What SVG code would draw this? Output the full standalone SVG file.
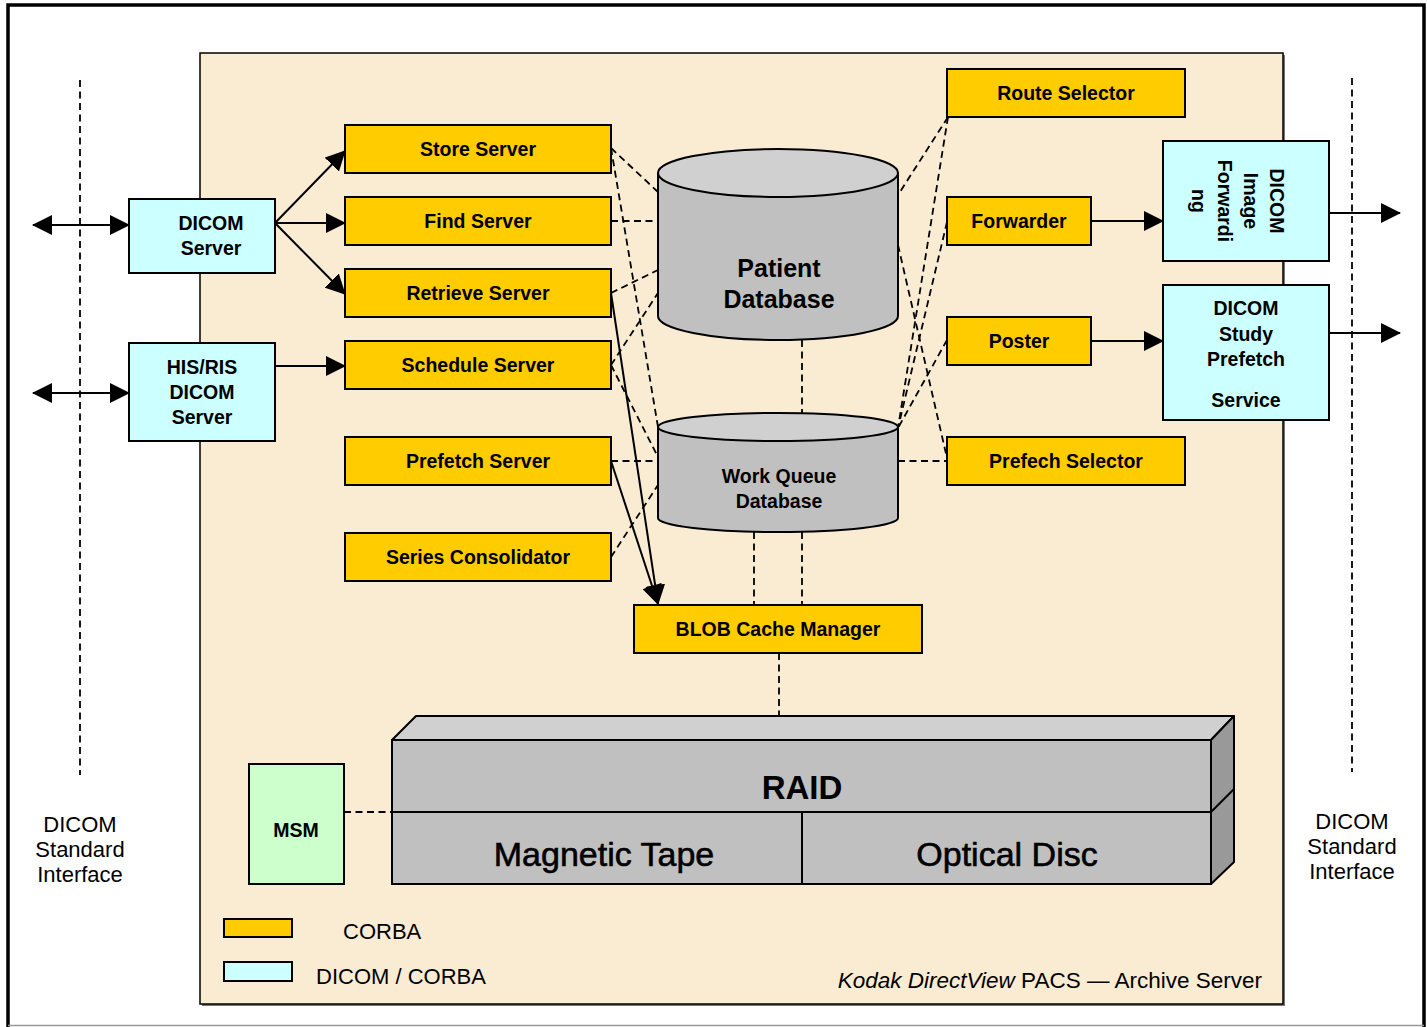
<svg xmlns="http://www.w3.org/2000/svg" width="1427" height="1027" viewBox="0 0 1427 1027">
<style>
text{font-family:"Liberation Sans",Arial,sans-serif;fill:#000}
.lbl{font-size:19.5px;font-weight:bold;text-anchor:middle}
.reg{font-size:22px;text-anchor:middle}
.box{stroke:#000;stroke-width:2}
.y{fill:#FFCC00}
.b{fill:#CCFFFF}
.dash{stroke:#000;stroke-width:1.8;stroke-dasharray:7 4.5;fill:none}
.sol{stroke:#000;stroke-width:2;fill:none}
.arr{marker-end:url(#ah)}
.arr2{marker-start:url(#ah);marker-end:url(#ah)}
.big{font-size:34px;text-anchor:middle;stroke:#000;stroke-width:0.6}
</style>
<defs>
<marker id="ah" markerUnits="userSpaceOnUse" markerWidth="20" markerHeight="20" viewBox="0 0 20 20" refX="19" refY="10" orient="auto-start-reverse">
<path d="M0,0 L20,10 L0,20 z" fill="#000"/>
</marker>
</defs>
<rect x="0" y="0" width="1427" height="1027" fill="#fff"/>
<path d="M8,1027 V5 H1424 V1027" fill="none" stroke="#000" stroke-width="3.5"/>
<line x1="8" y1="1025.5" x2="1424" y2="1025.5" stroke="#999" stroke-width="1.5"/>

<g id="panel">
<rect x="202" y="55" width="1083" height="951" fill="#777"/>
<rect x="200" y="53" width="1083" height="951" fill="#FAEBD3" stroke="#000" stroke-width="1.5"/>
</g>

<g id="interfaces">
<line x1="80" y1="80" x2="80" y2="775" class="dash"/>
<line x1="1352" y1="78" x2="1352" y2="772" class="dash"/>
<text class="reg" x="80" y="832">DICOM</text>
<text class="reg" x="80" y="857">Standard</text>
<text class="reg" x="80" y="882">Interface</text>
<text class="reg" x="1352" y="829">DICOM</text>
<text class="reg" x="1352" y="854">Standard</text>
<text class="reg" x="1352" y="879">Interface</text>
</g>

<g id="connectors">
<line class="dash" x1="611" y1="148" x2="658" y2="192"/>
<line class="dash" x1="611" y1="148" x2="658" y2="427"/>
<line class="dash" x1="611" y1="221" x2="658" y2="221"/>
<line class="dash" x1="611" y1="293" x2="658" y2="270"/>
<line class="dash" x1="611" y1="365" x2="658" y2="293"/>
<line class="dash" x1="611" y1="365" x2="658" y2="457"/>
<line class="dash" x1="611" y1="461" x2="658" y2="461"/>
<line class="dash" x1="611" y1="557" x2="658" y2="485"/>
<line class="dash" x1="802" y1="340" x2="802" y2="413"/>
<line class="dash" x1="754" y1="532" x2="754" y2="605"/>
<line class="dash" x1="802" y1="532" x2="802" y2="605"/>
<line class="dash" x1="779" y1="653" x2="779" y2="716"/>
<line class="dash" x1="344" y1="812" x2="392" y2="812"/>
<line class="dash" x1="948" y1="117" x2="898" y2="195"/>
<line class="dash" x1="948" y1="117" x2="898" y2="428"/>
<line class="dash" x1="947" y1="222" x2="898" y2="428"/>
<line class="dash" x1="947" y1="340" x2="898" y2="428"/>
<line class="dash" x1="898" y1="245" x2="947" y2="458"/>
<line class="dash" x1="898" y1="461" x2="947" y2="461"/>

<line class="sol arr2" x1="33" y1="225" x2="129" y2="225"/>
<line class="sol arr2" x1="33" y1="393" x2="129" y2="393"/>
<line class="sol arr" x1="275" y1="223" x2="345" y2="151"/>
<line class="sol arr" x1="275" y1="223" x2="345" y2="223"/>
<line class="sol arr" x1="275" y1="223" x2="345" y2="294"/>
<line class="sol arr" x1="275" y1="366" x2="345" y2="366"/>
<line class="sol arr" x1="611" y1="293" x2="658" y2="604"/>
<line class="sol arr" x1="611" y1="461" x2="658" y2="604"/>
<line class="sol arr" x1="1091" y1="221" x2="1163" y2="221"/>
<line class="sol arr" x1="1091" y1="341" x2="1163" y2="341"/>
<line class="sol arr" x1="1329" y1="213" x2="1400" y2="213"/>
<line class="sol arr" x1="1329" y1="333" x2="1400" y2="333"/>
</g>

<g id="dicom-server">
<rect class="box b" x="129" y="199" width="146" height="74"/>
<text class="lbl" x="211" y="230">DICOM</text>
<text class="lbl" x="211" y="255">Server</text>
</g>
<g id="his-ris-dicom-server">
<rect class="box b" x="129" y="343" width="146" height="98"/>
<text class="lbl" x="202" y="374">HIS/RIS</text>
<text class="lbl" x="202" y="399">DICOM</text>
<text class="lbl" x="202" y="424">Server</text>
</g>
<g id="store-server">
<rect class="box y" x="345" y="125" width="266" height="48"/>
<text class="lbl" x="478" y="156">Store Server</text>
</g>
<g id="find-server">
<rect class="box y" x="345" y="197" width="266" height="48"/>
<text class="lbl" x="478" y="228">Find Server</text>
</g>
<g id="retrieve-server">
<rect class="box y" x="345" y="269" width="266" height="48"/>
<text class="lbl" x="478" y="300">Retrieve Server</text>
</g>
<g id="schedule-server">
<rect class="box y" x="345" y="341" width="266" height="48"/>
<text class="lbl" x="478" y="372">Schedule Server</text>
</g>
<g id="prefetch-server">
<rect class="box y" x="345" y="437" width="266" height="48"/>
<text class="lbl" x="478" y="468">Prefetch Server</text>
</g>
<g id="series-consolidator">
<rect class="box y" x="345" y="533" width="266" height="48"/>
<text class="lbl" x="478" y="564">Series Consolidator</text>
</g>
<g id="blob-cache-manager">
<rect class="box y" x="634" y="605" width="288" height="48"/>
<text class="lbl" x="778" y="636">BLOB Cache Manager</text>
</g>
<g id="route-selector">
<rect class="box y" x="947" y="69" width="238" height="48"/>
<text class="lbl" x="1066" y="100">Route Selector</text>
</g>
<g id="forwarder">
<rect class="box y" x="947" y="197" width="144" height="48"/>
<text class="lbl" x="1019" y="228">Forwarder</text>
</g>
<g id="poster">
<rect class="box y" x="947" y="317" width="144" height="48"/>
<text class="lbl" x="1019" y="348">Poster</text>
</g>
<g id="prefech-selector">
<rect class="box y" x="947" y="437" width="238" height="48"/>
<text class="lbl" x="1066" y="468">Prefech Selector</text>
</g>
<g id="dicom-image-forwarding">
<rect class="box b" x="1163" y="141" width="166" height="120"/>
<text class="lbl" transform="translate(1270,201) rotate(90)">DICOM</text>
<text class="lbl" transform="translate(1244,201) rotate(90)">Image</text>
<text class="lbl" transform="translate(1218,201) rotate(90)">Forwardi</text>
<text class="lbl" transform="translate(1192,201) rotate(90)">ng</text>
</g>
<g id="dicom-study-prefetch-service">
<rect class="box b" x="1163" y="285" width="166" height="135"/>
<text class="lbl" x="1246" y="315">DICOM</text>
<text class="lbl" x="1246" y="341">Study</text>
<text class="lbl" x="1246" y="366">Prefetch</text>
<text class="lbl" x="1246" y="407">Service</text>
</g>

<g id="patient-database">
<path d="M658,173 V316 A120,24 0 0 0 898,316 V173" fill="#C0C0C0" stroke="#000" stroke-width="2"/>
<ellipse cx="778" cy="173" rx="120" ry="24" fill="#D0D0D0" stroke="#000" stroke-width="2"/>
<text x="779" y="277" text-anchor="middle" font-size="25" font-weight="bold">Patient</text>
<text x="779" y="308" text-anchor="middle" font-size="25" font-weight="bold">Database</text>
</g>
<g id="work-queue-database">
<path d="M658,427 V518 A120,14 0 0 0 898,518 V427" fill="#C0C0C0" stroke="#000" stroke-width="2"/>
<ellipse cx="778" cy="427" rx="120" ry="14" fill="#D0D0D0" stroke="#000" stroke-width="2"/>
<text x="779" y="483" text-anchor="middle" font-size="19.5" font-weight="bold">Work Queue</text>
<text x="779" y="508" text-anchor="middle" font-size="19.5" font-weight="bold">Database</text>
</g>

<g id="storage">
<polygon points="392,740 416,716 1234,716 1211,740" fill="#D0D0D0" stroke="#000" stroke-width="2" stroke-linejoin="round"/>
<polygon points="1211,740 1234,716 1234,862 1211,884" fill="#999999" stroke="#000" stroke-width="2" stroke-linejoin="round"/>
<rect x="392" y="740" width="819" height="144" fill="#C0C0C0" stroke="#000" stroke-width="2"/>
<line x1="392" y1="812" x2="1211" y2="812" stroke="#000" stroke-width="2"/>
<line x1="1211" y1="812" x2="1234" y2="789" stroke="#000" stroke-width="2"/>
<line x1="802" y1="812" x2="802" y2="884" stroke="#000" stroke-width="2"/>
<text x="802" y="799" text-anchor="middle" font-size="33" font-weight="bold">RAID</text>
<text class="big" x="604" y="866">Magnetic Tape</text>
<text class="big" x="1007" y="866">Optical Disc</text>
</g>

<g id="msm">
<rect class="box" x="249" y="764" width="95" height="120" fill="#CCFFCC"/>
<text class="lbl" x="296" y="837">MSM</text>
</g>

<g id="legend">
<rect class="box y" x="224" y="919" width="68" height="18"/>
<rect class="box b" x="224" y="962" width="68" height="19"/>
<text x="343" y="939" font-size="22">CORBA</text>
<text x="316" y="984" font-size="22">DICOM / CORBA</text>
<text x="1262" y="988" font-size="22.5" text-anchor="end"><tspan font-style="italic">Kodak DirectView</tspan> PACS — Archive Server</text>
</g>
</svg>
